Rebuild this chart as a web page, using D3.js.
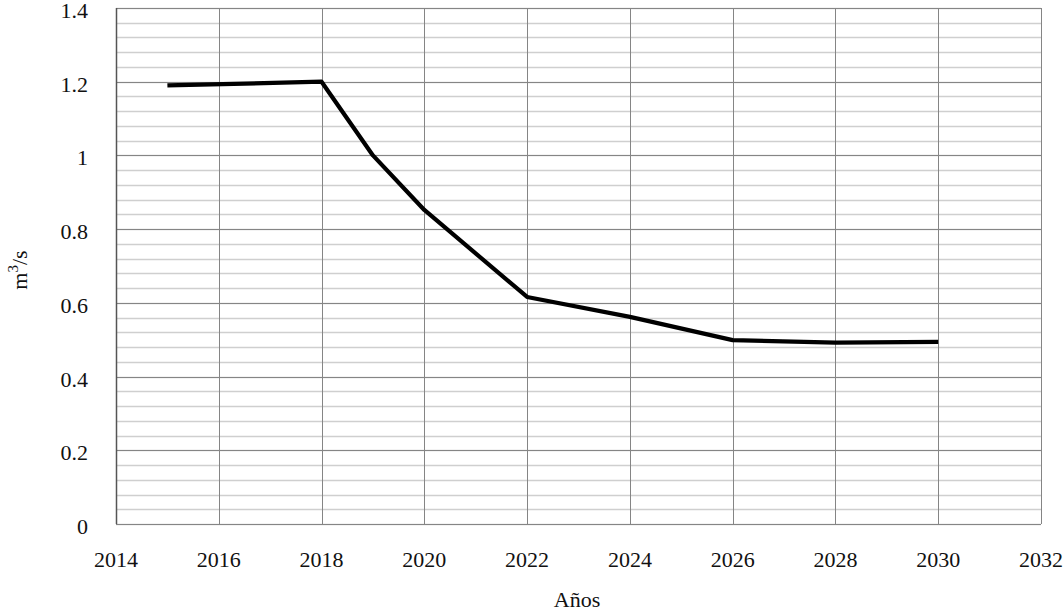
<!DOCTYPE html>
<meta charset="utf-8">
<style>
body { margin: 0; background: #fff; }
text { font-family: "Liberation Serif", "DejaVu Serif", serif; fill: #111; }
</style>
<body>
<script src="https://cdn.jsdelivr.net/npm/d3@7"></script>
<script>

var years = [2015, 2018, 2019, 2020, 2022, 2024, 2026, 2028, 2030],
    flow = [1.19, 1.2, 1.0, 0.852, 0.616, 0.562, 0.499, 0.492, 0.494];

var xTicks = [2014, 2016, 2018, 2020, 2022, 2024, 2026, 2028, 2030, 2032],
    yTicks = [0, 0.2, 0.4, 0.6, 0.8, 1, 1.2, 1.4],
    yMinor = d3.range(0, 1.4001, 0.04);

var width = 1064, height = 612,
    margin = {top: 8, right: 23, bottom: 88, left: 116},
    fs = "22px";

var svg = d3.select("body").append("svg")
    .attr("width", width)
    .attr("height", height);

var x = d3.scaleLinear()
    .domain([2014, 2032])
    .range([margin.left, width - margin.right]);

var y = d3.scaleLinear()
    .domain([0, 1.4])
    .range([height - margin.bottom, margin.top]);

// minor horizontal grid
svg.append("g")
  .selectAll("line")
  .data(yMinor)
  .enter().append("line")
    .attr("x1", x(2014)).attr("x2", x(2032))
    .attr("y1", function(d) { return Math.round(y(d)) + 0.5; })
    .attr("y2", function(d) { return Math.round(y(d)) + 0.5; })
    .attr("stroke", "#cfcfcf")
    .attr("stroke-width", 1.5);

// major grid
svg.append("g")
  .selectAll("line")
  .data(yTicks)
  .enter().append("line")
    .attr("x1", x(2014)).attr("x2", x(2032))
    .attr("y1", function(d) { return Math.round(y(d)) + 0.5; })
    .attr("y2", function(d) { return Math.round(y(d)) + 0.5; })
    .attr("stroke", "#858585");

svg.append("g")
  .selectAll("line")
  .data(xTicks)
  .enter().append("line")
    .attr("x1", function(d) { return Math.round(x(d)) + 0.5; })
    .attr("x2", function(d) { return Math.round(x(d)) + 0.5; })
    .attr("y1", y(0)).attr("y2", y(1.4))
    .attr("stroke", "#858585");

// left axis line
svg.append("line")
    .attr("x1", x(2014) + 0.5).attr("x2", x(2014) + 0.5)
    .attr("y1", y(0)).attr("y2", y(1.4))
    .attr("stroke", "#555")
    .attr("stroke-width", 1.5);

// y labels
svg.append("g")
  .selectAll("text")
  .data(yTicks)
  .enter().append("text")
    .attr("x", 88)
    .attr("y", function(d) { return y(d) + 10; })
    .attr("text-anchor", "end")
    .style("font-size", fs)
    .text(function(d) { return d; });

// x labels
svg.append("g")
  .selectAll("text")
  .data(xTicks)
  .enter().append("text")
    .attr("x", function(d) { return x(d); })
    .attr("y", 567)
    .attr("text-anchor", "middle")
    .style("font-size", fs)
    .text(function(d) { return d; });

svg.append("text")
    .attr("x", 577)
    .attr("y", 607)
    .attr("text-anchor", "middle")
    .style("font-size", fs)
    .text("Años");

var yl = svg.append("text")
    .attr("transform", "translate(27,270) rotate(-90)")
    .attr("text-anchor", "middle")
    .style("font-size", fs);
yl.append("tspan").text("m");
yl.append("tspan").attr("dy", -9).style("font-size", "15px").text("3");
yl.append("tspan").attr("dy", 9).text("/s");

var line = d3.line()
    .x(function(d, i) { return x(years[i]); })
    .y(function(d) { return y(d); });

svg.append("path")
    .datum(flow)
    .attr("d", line)
    .attr("fill", "none")
    .attr("stroke", "#000")
    .attr("stroke-width", 4.2)
    .attr("stroke-linejoin", "round");

</script>
</body>
